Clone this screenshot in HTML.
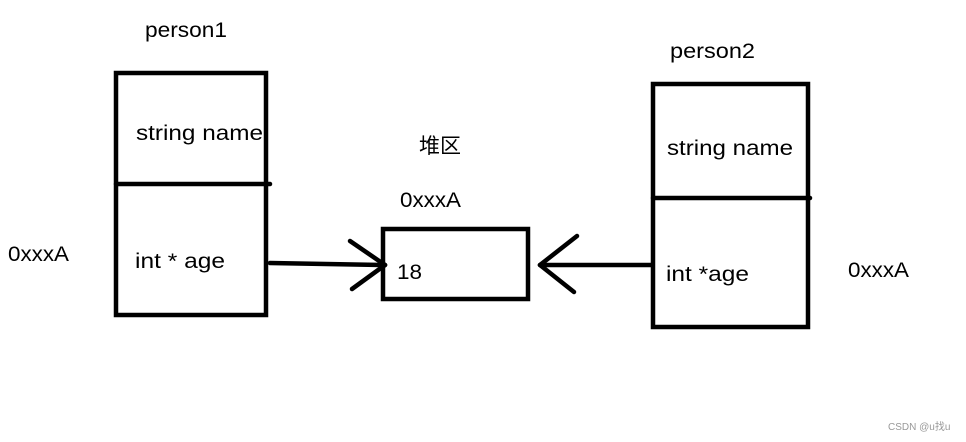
<!DOCTYPE html>
<html><head><meta charset="utf-8"><style>
html,body{margin:0;padding:0;background:#fff;}
svg{display:block;}
text{font-family:"Liberation Sans","Noto Sans CJK SC",sans-serif;font-size:21px;fill:#000;}
</style></head><body>
<svg width="966" height="442" viewBox="0 0 966 442" xmlns="http://www.w3.org/2000/svg">
<g fill="none" stroke="#000" stroke-width="4.5" stroke-linecap="round">
<rect x="116" y="73" width="150" height="242"/>
<line x1="116" y1="184" x2="270" y2="184"/>
<rect x="383" y="229" width="145" height="70"/>
<rect x="653" y="84" width="155" height="243"/>
<line x1="653" y1="198" x2="810" y2="198"/>
<line x1="270" y1="263" x2="385" y2="265"/>
<line x1="350" y1="241" x2="385" y2="265"/>
<line x1="352" y1="289" x2="385" y2="265"/>
<line x1="651" y1="265" x2="540" y2="265"/>
<line x1="577" y1="236" x2="540" y2="265"/>
<line x1="574" y1="292" x2="540" y2="265"/>
</g>
<text x="145" y="37" textLength="82" lengthAdjust="spacingAndGlyphs">person1</text>
<text x="136" y="140" textLength="127" lengthAdjust="spacingAndGlyphs">string name</text>
<text x="135" y="268" textLength="90" lengthAdjust="spacingAndGlyphs">int * age</text>
<text x="419" y="153">堆区</text>
<text x="400" y="207" textLength="61" lengthAdjust="spacingAndGlyphs">0xxxA</text>
<text x="397" y="279" textLength="25" lengthAdjust="spacingAndGlyphs">18</text>
<text x="670" y="58" textLength="85" lengthAdjust="spacingAndGlyphs">person2</text>
<text x="667" y="155" textLength="126" lengthAdjust="spacingAndGlyphs">string name</text>
<text x="666" y="281" textLength="83" lengthAdjust="spacingAndGlyphs">int *age</text>
<text x="8" y="261" textLength="61" lengthAdjust="spacingAndGlyphs">0xxxA</text>
<text x="848" y="277" textLength="61" lengthAdjust="spacingAndGlyphs">0xxxA</text>
<text x="888" y="430" style="font-size:10px;fill:#999">CSDN @u找u</text>
</svg>
</body></html>
